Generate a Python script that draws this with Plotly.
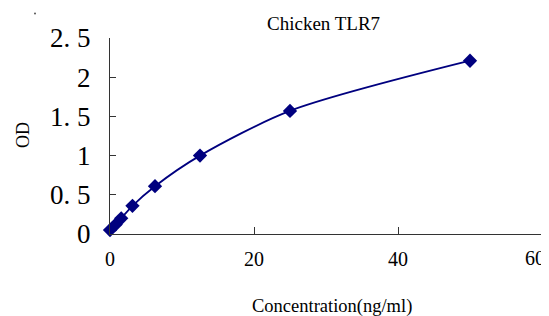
import plotly.graph_objects as go

conc = [0, 0.78, 1.56, 3.12, 6.25, 12.5, 25, 50]
od = [0.05, 0.12, 0.20, 0.36, 0.61, 1.00, 1.57, 2.21]

y_tickvals = [0, 0.5, 1, 1.5, 2, 2.5]
y_ticktext = ["0", "0. 5", "1", "1. 5", "2", "2. 5"]
x_tickvals = [0, 20, 40, 60]
x_ticktext = ["0", "20", "40", "60"]

navy = "#00007f"
serif = "Liberation Serif"

# page body has an 8px margin; figure sized to fill the rest of the window
OFF = 8
W, H = 549 - OFF, 316 - OFF
L, R, T, B = 102, 7, 30, 82
PW, PH = W - L - R, H - T - B

fig = go.Figure()
fig.add_trace(go.Scatter(
    x=conc, y=od, mode="lines+markers",
    line=dict(color=navy, width=1.8, shape="spline", smoothing=0.8),
    marker=dict(symbol="diamond", size=11, color=navy),
    cliponaxis=False, showlegend=False,
))

# last x tick label is drawn as an annotation, nudged left so it stays inside the window
shown = ["" if i == len(x_ticktext) - 1 else t for i, t in enumerate(x_ticktext)]

fig.update_layout(
    width=W, height=H,
    margin=dict(l=L, r=R, t=T, b=B, autoexpand=False),
    paper_bgcolor="white", plot_bgcolor="white",
    xaxis=dict(range=[0, 60], tickvals=x_tickvals, ticktext=shown, automargin=False,
               showgrid=False, zeroline=False, showline=True, linecolor="#333333", linewidth=1,
               ticks="inside", ticklen=7, tickcolor="#333333",
               tickfont=dict(family=serif, size=20, color="black"), ticklabelstandoff=7),
    yaxis=dict(range=[0, 2.5], tickvals=y_tickvals, ticktext=y_ticktext, automargin=False,
               showgrid=False, zeroline=False, showline=True, linecolor="#333333", linewidth=1,
               ticks="inside", ticklen=6, tickcolor="#333333",
               tickfont=dict(family=serif, size=27, color="black"), ticklabelstandoff=13),
)

fig.add_annotation(text=x_ticktext[-1], x=x_tickvals[-1], y=0, xref="x", yref="paper",
                   xanchor="center", yanchor="top", xshift=-7, yshift=-11, showarrow=False,
                   font=dict(family=serif, size=20, color="black"))

def to_paper(sx, sy):
    fx, fy = sx - OFF, sy - OFF
    return (fx - L) / PW, (H - B - fy) / PH

def px_annot(text, sx, sy, size, angle=0):
    x, y = to_paper(sx, sy)
    fig.add_annotation(text=text, x=x, y=y, xref="paper", yref="paper",
                       xanchor="center", yanchor="middle", showarrow=False, textangle=angle,
                       font=dict(family=serif, size=size, color="black"))

px_annot("Chicken TLR7", 323, 23, 19)
px_annot("Concentration(ng/ml)", 332, 306, 18.5)
px_annot("OD", 23, 135, 18, angle=-90)

x0, y0 = to_paper(34, 12.5)
x1, y1 = to_paper(36, 14.5)
fig.add_shape(type="circle", xref="paper", yref="paper", x0=x0, x1=x1, y0=y0, y1=y1,
              fillcolor="#555555", line=dict(width=0))
fig.write_html("out.html")
